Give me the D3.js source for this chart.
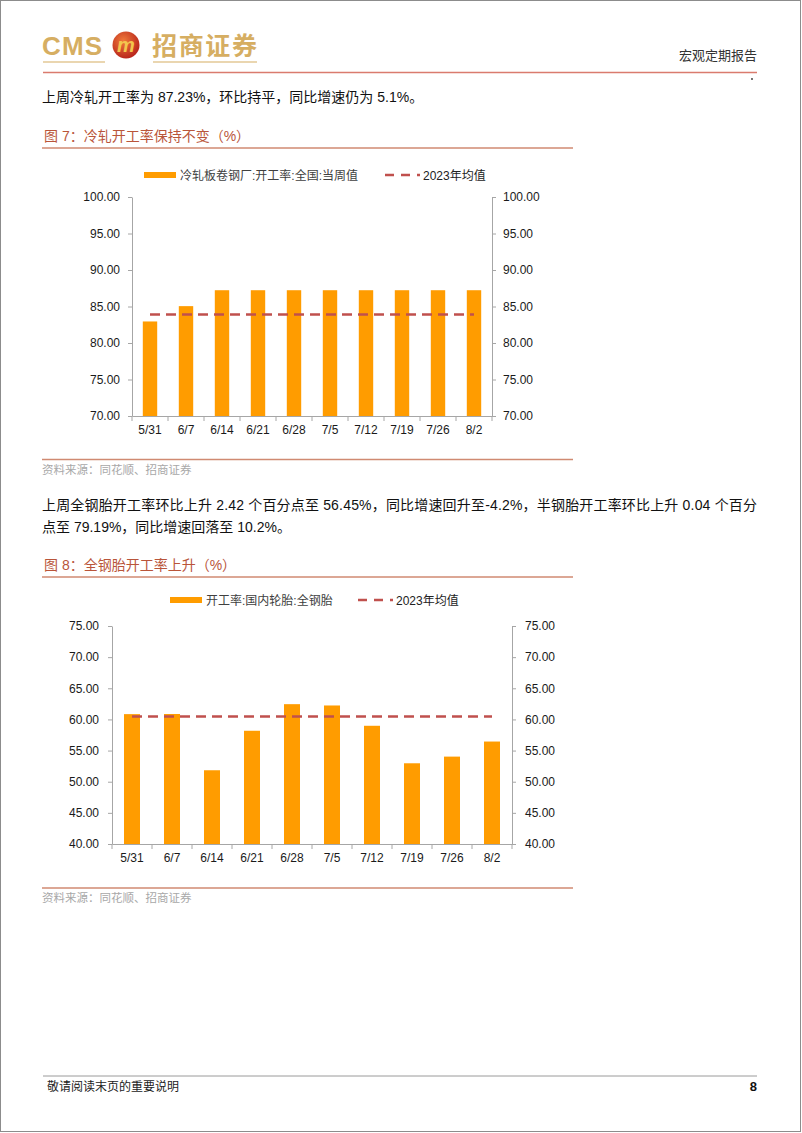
<!DOCTYPE html>
<html><head><meta charset="utf-8">
<script src="https://cdn.jsdelivr.net/npm/d3@7"></script>
<style>
html,body{margin:0;padding:0;background:#fff;}
svg{display:block;}
text{font-family:"Liberation Sans","Noto Sans CJK SC",Arial,sans-serif;}
.cjk{font-family:"Liberation Sans","Noto Sans CJK SC",sans-serif;}
</style>
</head><body>
<script>
// ---------- DATA ----------
const categories = ["5/31","6/7","6/14","6/21","6/28","7/5","7/12","7/19","7/26","8/2"];
const coldRolledRate = [82.95,85.05,87.23,87.23,87.23,87.23,87.23,87.23,87.23,87.23];
const coldRolledMean2023 = 83.9;
const coldRolledTicks = [70,75,80,85,90,95,100];
const tireRate = [60.85,60.87,51.84,58.18,62.45,62.24,58.98,52.96,54.03,56.45];
const tireMean2023 = 60.48;
const tireTicks = [40,45,50,55,60,65,70,75];
const seriesNames1 = ["冷轧板卷钢厂:开工率:全国:当周值","2023年均值"];
const seriesNames2 = ["开工率:国内轮胎:全钢胎","2023年均值"];

const W = 802, H = 1133;
const BAR = "#FF9C00", MEAN = "#C0504D", AXIS = "#A6A6A6";
const TITLE = "#B9553A", RULE = "#D08A72", GOLD = "#D6AE62";

const svg = d3.select("body").append("svg").attr("width", W).attr("height", H);
svg.append("rect").attr("x",0.5).attr("y",0.5).attr("width",W-2).attr("height",H-2)
  .attr("fill","#fff").attr("stroke","#8c8c8c").attr("stroke-width",1);

// ---------- HEADER ----------
svg.append("text").attr("x",42).attr("y",55).attr("font-size",26).attr("font-weight","bold")
  .attr("fill",GOLD).attr("font-family","'DejaVu Sans','Liberation Sans',sans-serif").attr("textLength",60).text("CMS");
const defs = svg.append("defs");
const rg = defs.append("radialGradient").attr("id","lg").attr("cx","40%").attr("cy","35%").attr("r","70%");
rg.append("stop").attr("offset","0%").attr("stop-color","#F07A3A");
rg.append("stop").attr("offset","100%").attr("stop-color","#B5201A");
svg.append("circle").attr("cx",126).attr("cy",45).attr("r",13.5).attr("fill","url(#lg)");
svg.append("text").attr("x",126).attr("y",52).attr("text-anchor","middle").attr("font-size",20)
  .attr("font-weight","bold").attr("font-style","italic").attr("fill","#F2C64E").text("m");
svg.append("text").attr("class","cjk").attr("x",152).attr("y",55).attr("font-size",25).attr("font-weight","bold")
  .attr("fill",GOLD).attr("font-family","'Noto Sans CJK SC'").attr("textLength",105).text("招商证券");
svg.append("line").attr("x1",43).attr("x2",105).attr("y1",62).attr("y2",62).attr("stroke",GOLD).attr("stroke-width",1.2);
svg.append("line").attr("x1",153).attr("x2",257).attr("y1",62).attr("y2",62).attr("stroke",GOLD).attr("stroke-width",1.2);
svg.append("line").attr("x1",43).attr("x2",757).attr("y1",72.5).attr("y2",72.5).attr("stroke","#DA7B6E").attr("stroke-width",1.3);
svg.append("text").attr("x",757).attr("y",60).attr("text-anchor","end").attr("font-size",13)
  .attr("fill","#333").attr("font-family","'Noto Sans CJK SC'").text("宏观定期报告");
svg.append("circle").attr("cx",752).attr("cy",79).attr("r",0.9).attr("fill","#333");

// ---------- BODY TEXT ----------
function para(x, y, str, opts={}) {
  const t = svg.append("text").attr("x",x).attr("y",y).attr("font-size",opts.size||14)
    .attr("fill",opts.fill||"#111").attr("font-family","'Liberation Sans','Noto Sans CJK SC',sans-serif").text(str);
  if (opts.len) t.attr("textLength",opts.len).attr("lengthAdjust","spacing");
  return t;
}
para(42, 102, "上周冷轧开工率为 87.23%，环比持平，同比增速仍为 5.1%。");
para(42, 510, "上周全钢胎开工率环比上升 2.42 个百分点至 56.45%，同比增速回升至-4.2%，半钢胎开工率环比上升 0.04 个百分", {len:715});
para(42, 532, "点至 79.19%，同比增速回落至 10.2%。");

function figTitle(y, str) {
  svg.append("text").attr("x",44).attr("y",y).attr("font-size",14).attr("fill",TITLE)
    .attr("font-family","'Liberation Sans','Noto Sans CJK SC',sans-serif").text(str);
  svg.append("line").attr("x1",42).attr("x2",573).attr("y1",y+7).attr("y2",y+7).attr("stroke",RULE).attr("stroke-width",1.5);
}
figTitle(141, "图 7：冷轧开工率保持不变（%）");
figTitle(570, "图 8：全钢胎开工率上升（%）");

function source(y) {
  svg.append("line").attr("x1",42).attr("x2",573).attr("y1",y).attr("y2",y).attr("stroke",RULE).attr("stroke-width",1.5);
  svg.append("text").attr("x",42).attr("y",y+14).attr("font-size",11.5).attr("fill","#A8A8A8")
    .attr("font-family","'Noto Sans CJK SC'").text("资料来源：同花顺、招商证券");
}
source(459.5);
source(888);

// ---------- FOOTER ----------
svg.append("line").attr("x1",43).attr("x2",757).attr("y1",1076).attr("y2",1076).attr("stroke","#9a9a9a").attr("stroke-width",1);
svg.append("text").attr("x",47).attr("y",1091).attr("font-size",12).attr("fill","#222")
  .attr("font-family","'Noto Sans CJK SC'").text("敬请阅读末页的重要说明");
svg.append("text").attr("x",757).attr("y",1091).attr("text-anchor","end").attr("font-size",13)
  .attr("font-weight","bold").attr("fill","#111").text("8");

// ---------- CHARTS ----------
function drawChart(cfg) {
  const g = svg.append("g");
  const x = d3.scaleBand().domain(categories).range([cfg.left, cfg.right]).paddingInner(0.6).paddingOuter(0.3);
  const xb = d3.scaleBand().domain(categories).range([cfg.left, cfg.right]).padding(0);
  const y = d3.scaleLinear().domain([cfg.ticks[0], cfg.ticks[cfg.ticks.length-1]]).range([cfg.bottom, cfg.top]);
  const fmt = d3.format(".2f");

  // bars
  g.selectAll("rect.bar").data(cfg.values).join("rect").attr("class","bar")
    .attr("x",(d,i)=>x(categories[i])).attr("width",x.bandwidth())
    .attr("y",d=>y(d)).attr("height",d=>y(cfg.ticks[0])-y(d)).attr("fill",BAR);

  // mean line
  const meanPts = categories.map(c=>[x(c)+x.bandwidth()/2, y(cfg.mean)]);
  g.append("path").attr("d", d3.line()([meanPts[0], meanPts[meanPts.length-1]]))
    .attr("stroke",MEAN).attr("stroke-width",2.6).attr("stroke-dasharray","10,6").attr("fill","none");

  // axes
  const styleAxis = sel => {
    sel.selectAll("path.domain").attr("stroke",AXIS);
    sel.selectAll(".tick line").attr("stroke",AXIS);
    sel.selectAll(".tick text").attr("font-size",12).attr("fill","#1a1a1a")
      .attr("font-family","'Liberation Sans',Arial,sans-serif");
  };
  g.append("g").attr("transform",`translate(${cfg.left},0)`)
    .call(d3.axisLeft(y).tickValues(cfg.ticks).tickFormat(fmt).tickSize(4).tickSizeOuter(0).tickPadding(cfg.padL))
    .call(styleAxis);
  g.append("g").attr("transform",`translate(${cfg.right},0)`)
    .call(d3.axisRight(y).tickValues(cfg.ticks).tickFormat(fmt).tickSize(4).tickSizeOuter(0).tickPadding(cfg.padR))
    .call(styleAxis);
  const xa = g.append("g").attr("transform",`translate(0,${cfg.bottom})`)
    .call(d3.axisBottom(xb).tickSize(0).tickSizeOuter(0).tickPadding(9)).call(styleAxis);
  xa.selectAll(".tick text").attr("dy","0.71em");
  // category boundary ticks
  const bounds = categories.map(c=>xb(c)).concat([cfg.right]);
  g.selectAll("line.bt").data(bounds).join("line").attr("class","bt")
    .attr("x1",d=>d).attr("x2",d=>d).attr("y1",cfg.bottom).attr("y2",cfg.bottom+5).attr("stroke",AXIS);

  // legend
  const L = cfg.legend;
  g.append("rect").attr("x",L.rx).attr("y",L.y-3).attr("width",32).attr("height",6).attr("fill",BAR);
  g.append("text").attr("x",L.rx+36).attr("y",L.y+4.5).attr("font-size",12).attr("fill","#404040")
    .attr("font-family","'Noto Sans CJK SC'").text(cfg.names[0]);
  g.append("line").attr("x1",L.dx).attr("x2",L.dx+35).attr("y1",L.y).attr("y2",L.y)
    .attr("stroke",MEAN).attr("stroke-width",2.6).attr("stroke-dasharray","9,7,9,7,3,40");
  g.append("text").attr("x",L.dx+38).attr("y",L.y+4.5).attr("font-size",12).attr("fill","#222")
    .attr("font-family","'Liberation Sans','Noto Sans CJK SC',sans-serif").text(cfg.names[1]);
}

drawChart({left:132, right:492, top:197, bottom:416, ticks:coldRolledTicks, values:coldRolledRate,
  mean:coldRolledMean2023, names:seriesNames1, padL:8, padR:7, legend:{rx:144, dx:385, y:175}});
drawChart({left:112, right:512, top:626, bottom:844, ticks:tireTicks, values:tireRate,
  mean:tireMean2023, names:seriesNames2, padL:9, padR:9, legend:{rx:170, dx:358, y:600}});
</script>
</body></html>
